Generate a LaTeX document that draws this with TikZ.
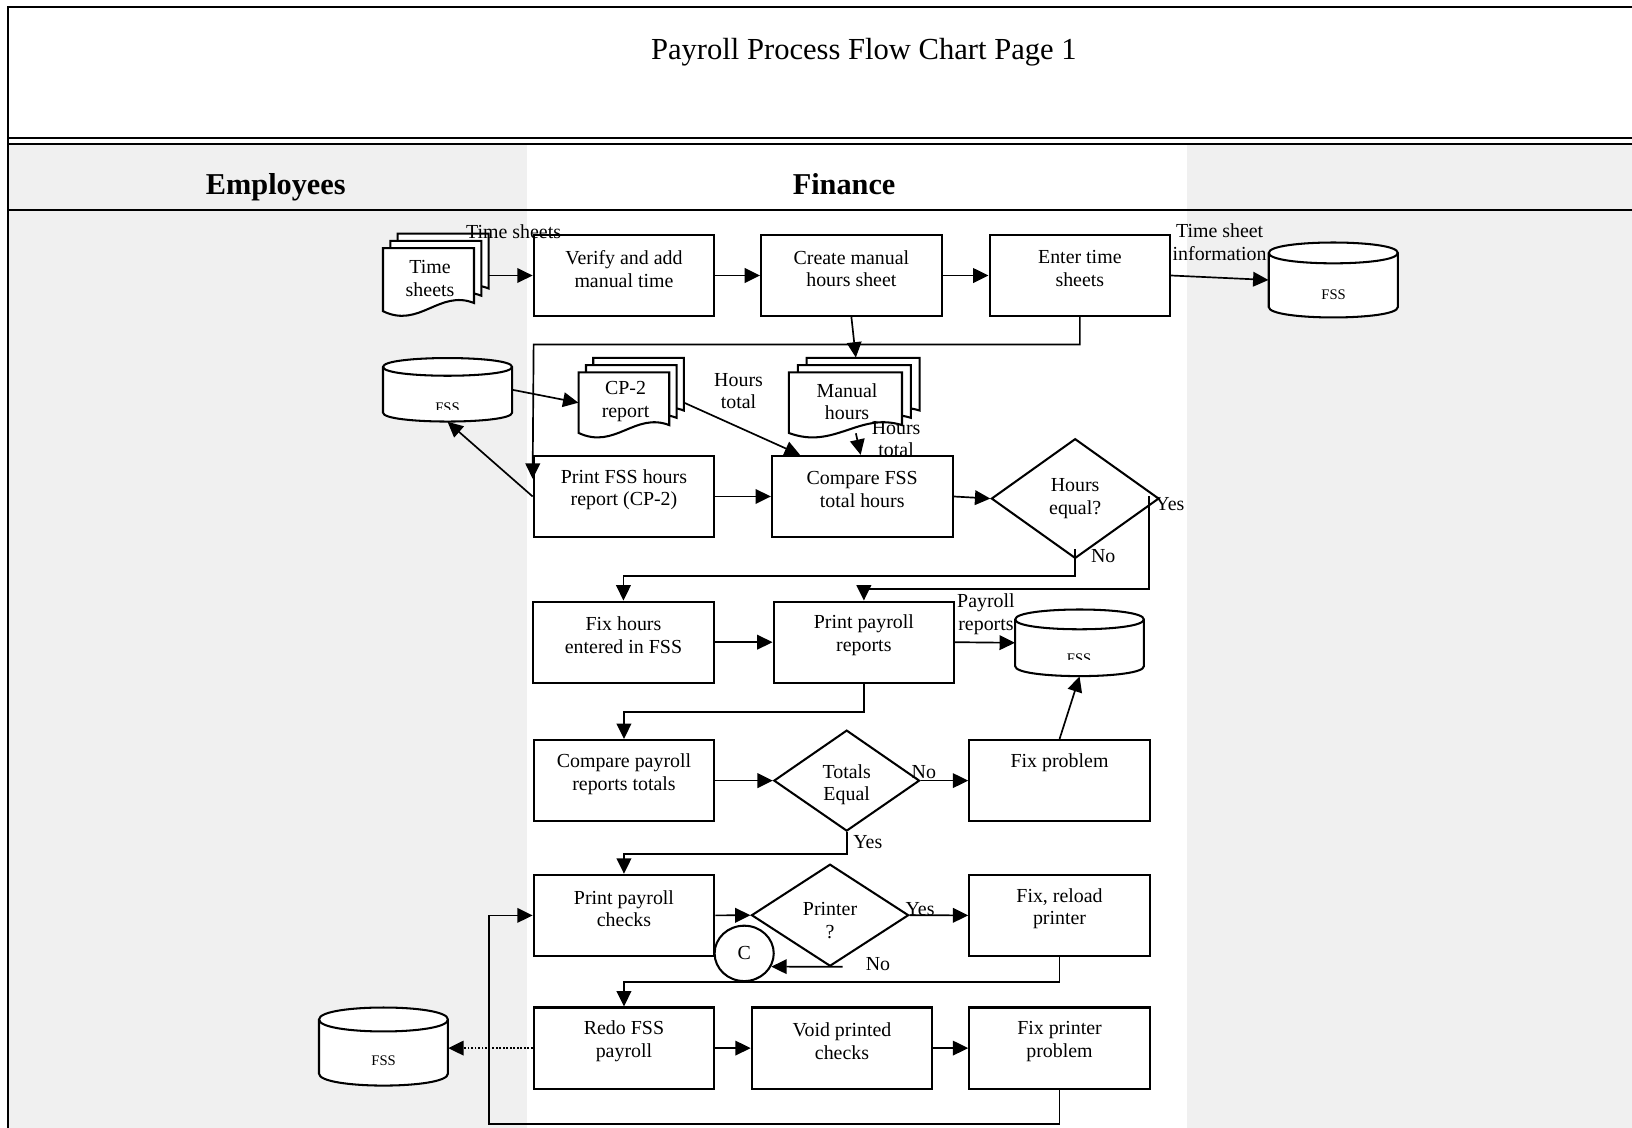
\documentclass[tikz,border=0pt]{standalone}
\usepackage{fontspec}
\setmainfont{Liberation Serif}
\usetikzlibrary{arrows.meta,shapes.geometric,calc,fit}
\definecolor{lanegray}{RGB}{240,240,240}

% one document page: #1 left x, #2 top y, #3 right x, #4 left-bottom y
\newcommand\mydocpage[4]{%
  \pgfmathsetmacro\dW{(#3)-(#1)}%
  \pgfmathsetmacro\dH{(#4)-(#2)}%
  \pgfmathsetmacro\pRy{(#4)-0.13*\dH}%
  \pgfmathsetmacro\pCax{(#1)+0.62*\dW}%
  \pgfmathsetmacro\pCay{(#4)-0.35*\dH}%
  \pgfmathsetmacro\pCbx{(#1)+0.40*\dW}%
  \pgfmathsetmacro\pCby{(#4)+0.28*\dH}%
  \draw[docst] (#1,#2) -- (#3,#2) -- (#3,\pRy) .. controls (\pCax,\pCay) and (\pCbx,\pCby) .. (#1,#4) -- cycle;
}
% stack of documents: #1 name, #2 a, #3 b, #4 c, #5 d, #6 ox, #7 oy, #8 text
\newcommand\mydocstack[8]{%
  \pgfmathsetmacro\sAa{(#2)+2*(#6)}\pgfmathsetmacro\sAb{(#3)-2*(#7)}%
  \pgfmathsetmacro\sAc{(#4)+2*(#6)}\pgfmathsetmacro\sAd{(#5)-2*(#7)}%
  \pgfmathsetmacro\sBa{(#2)+(#6)}\pgfmathsetmacro\sBb{(#3)-(#7)}%
  \pgfmathsetmacro\sBc{(#4)+(#6)}\pgfmathsetmacro\sBd{(#5)-(#7)}%
  \pgfmathsetmacro\sRy{(#5)-0.13*((#5)-(#3))-2*(#7)}%
  \mydocpage{\sAa}{\sAb}{\sAc}{\sAd}%
  \mydocpage{\sBa}{\sBb}{\sBc}{\sBd}%
  \mydocpage{#2}{#3}{#4}{#5}%
  \node[fit={(#2,#3) (#4,#5)}, inner sep=0] (#1) {};
  \node[fit={(\sAa,\sAb) (\sAc,\sRy)}, inner sep=0] (#1b) {};
  \node[txt] (#1t) at ($(#1.center)+(1.5,-1)$) {#8};
}
% cylinder: #1 name, #2 x1, #3 y1, #4 x2, #5 y2, #6 ry
\newcommand\myfsscyl[6]{%
  \pgfmathsetmacro\cyA{(#3)+(#6)}%
  \pgfmathsetmacro\cyB{(#5)-(#6)}%
  \pgfmathsetmacro\cyK{4/3*(#6)}%
  \pgfmathsetmacro\cyBd{\cyB+\cyK}%
  \pgfmathsetmacro\cyAd{\cyA+\cyK}%
  \pgfmathsetmacro\cyAu{\cyA-\cyK}%
  \draw[cylst] (#2,\cyA) -- (#2,\cyB) .. controls (#2,\cyBd) and (#4,\cyBd) .. (#4,\cyB) -- (#4,\cyA) .. controls (#4,\cyAu) and (#2,\cyAu) .. (#2,\cyA) -- cycle;
  \draw[cylst, fill=none] (#2,\cyA) .. controls (#2,\cyAd) and (#4,\cyAd) .. (#4,\cyA);
  \node[fit={(#2,#3) (#4,#5)}, inner sep=0] (#1) {};
}

\begin{document}
\begin{tikzpicture}[x=0.025cm,y=-0.025cm,
  box/.style={draw, line width=1.4pt, fill=white, minimum width=4.3375cm, minimum height=1.95cm, inner sep=0},
  dia/.style={draw, diamond, line width=1.4pt, fill=white, inner sep=0},
  txt/.style={font=\fontsize{13.6}{15.6}\selectfont, align=center, inner sep=0},
  fsst/.style={font=\fontsize{10}{12}\selectfont, inner sep=0},
  arr/.style={line width=1.15pt, -{Triangle[length=10.5pt,width=10pt]}},
  dotarr/.style={line width=1.15pt, dash pattern=on 1.3pt off 1.1pt, -{Triangle[length=10.5pt,width=10pt]}},
  docst/.style={draw, fill=white, line width=1.4pt, line join=miter},
  cylst/.style={draw, fill=white, line width=1.4pt},
  framest/.style={line width=1.3pt}]

\useasboundingbox (0,0) rectangle (1568,1083.6);
\clip (0,0) rectangle (1568,1083.6);
\fill[white] (0,0) rectangle (1568,1083.6);
\fill[lanegray] (8,138.5) rectangle (506.5,1090);
\fill[lanegray] (1140,138.5) rectangle (1575,1090);
\draw[framest] (1575,6.5) -- (8,6.5) -- (8,1090);
\draw[framest] (8,132.5) -- (1575,132.5);
\draw[framest] (8,138.5) -- (1575,138.5);
\draw[framest] (8,201.6) -- (1575,201.6);

\node[font=\fontsize{20.9}{25}\selectfont, anchor=base, inner sep=0] (title) at (830,57.6) {Payroll Process Flow Chart Page 1};
\node[font=\bfseries\fontsize{20.7}{25}\selectfont, anchor=base, inner sep=0] (lemp) at (265,187.2) {Employees};
\node[font=\bfseries\fontsize{20.7}{25}\selectfont, anchor=base, inner sep=0] (lfin) at (811,187.2) {Finance};

% process boxes
\node[box] (verify) at (599.5,264.7) {};
\node[box] (create) at (818,264.7) {};
\node[box] (enter) at (1037.5,264.7) {};
\node[box] (printfss) at (599.5,477) {};
\node[box] (cmpf) at (828.4,477) {};
\node[box] (fixh) at (599,617) {};
\node[box] (prep) at (830,617) {};
\node[box] (cmpp) at (599.5,750) {};
\node[box] (fixp) at (1018,750) {};
\node[box] (ppc) at (599.5,879.5) {};
\node[box] (fixr) at (1018,879.5) {};
\node[box] (redo) at (599.5,1007) {};
\node[box] (void) at (809,1007) {};
\node[box] (fixpr) at (1018,1007) {};

\node[txt] (verifyt) at ($(verify)+(0,-6.5)$) {Verify and add\\manual time};
\node[txt] (createt) at ($(create)+(0,-6.5)$) {Create manual\\hours sheet};
\node[txt] (entert) at ($(enter)+(0,-6.5)$) {Enter time\\sheets};
\node[txt] (printfsst) at ($(printfss)+(0,-6.5)$) {Print FSS hours\\report (CP-2)};
\node[txt] (cmpft) at ($(cmpf)+(0,-6.5)$) {Compare FSS\\total hours};
\node[txt] (fixht) at ($(fixh)+(0,-6.5)$) {Fix hours\\entered in FSS};
\node[txt] (prept) at ($(prep)+(0,-6.5)$) {Print payroll\\reports};
\node[txt] (cmppt) at ($(cmpp)+(0,-6.5)$) {Compare payroll\\reports totals};
\node[txt] (fixpt) at ($(fixp)+(0,-17)$) {Fix problem};
\node[txt] (ppct) at ($(ppc)+(0,-6.5)$) {Print payroll\\checks};
\node[txt] (fixrt) at ($(fixr)+(0,-6.5)$) {Fix, reload\\printer};
\node[txt] (redot) at ($(redo)+(0,-6.5)$) {Redo FSS\\payroll};
\node[txt] (voidt) at ($(void)+(0,-6.5)$) {Void printed\\checks};
\node[txt] (fixprt) at ($(fixpr)+(0,-6.5)$) {Fix printer\\problem};

% decisions
\node[dia, minimum width=4.025cm, minimum height=2.875cm] (heq) at (1033,479) {};
\node[dia, minimum width=3.5cm, minimum height=2.425cm] (toteq) at (813.5,750) {};
\node[dia, minimum width=3.775cm, minimum height=2.45cm] (prq) at (797.5,879.3) {};
\node[txt] (heqt) at ($(heq)+(0,0)$) {Hours\\equal?};
\node[txt] (toteqt) at ($(toteq)+(0,4)$) {Totals\\Equal};
\node[txt] (prqt) at ($(prq)+(0,5)$) {Printer\\?};

% documents
\mydocstack{ts}{368}{238.4}{455.4}{299}{7}{7}{Time\\sheets}
\mydocstack{cp}{556}{357.8}{643}{416}{7}{7}{CP-2\\report}
\mydocstack{man}{758}{357.8}{866.6}{416}{8.5}{7}{Manual\\hours}

% data stores
\myfsscyl{fssa}{1219}{233}{1343}{305}{10}
\myfsscyl{fssb}{368}{344}{492}{405}{8.5}
\myfsscyl{fssc}{975.4}{585.6}{1099}{649.6}{9.5}
\myfsscyl{fssd}{306.5}{968}{430.4}{1043}{11.5}
\node[fsst, anchor=base] (fssat) at (1281.3,288) {FSS};
\begin{scope}
\clip (400,380) rectangle (460,393);
\node[fsst, anchor=base] (fssbt) at (430,396.5) {FSS};
\end{scope}
\begin{scope}
\clip (1005,620) rectangle (1070,633.6);
\node[fsst, anchor=base] (fssct) at (1036.8,637.5) {FSS};
\end{scope}
\node[fsst, anchor=base] (fssdt) at (368.6,1024) {FSS};

% connectors
\draw[arr] (verify.west -| tsb.east) -- (verify.west);
\draw[arr] (verify.east) -- (create.west);
\draw[arr] (create.east) -- (enter.west);
\draw[arr] (enter.east) -- (fssa.west);
\coordinate (loopA) at (512.7,331);
\draw[arr] (enter.south) -- (enter.south |- loopA) -- (loopA) -- ($(printfss.north west)+(0,23)$);
\draw[arr] (create.south) -- ($(manb.north)+(-7,0)$);
\draw[arr] (fssb.east) -- (cp.west);
\draw[arr] (cp.east -| cpb.east) -- ($(cmpf.north west)+(28,0)$);
\draw[arr] ($(man.south)+(10,0)$) -- ($(cmpf.north)+(-1.5,0)$);
\draw[arr] (printfss.west) -- (fssb.south);
\draw[arr] (printfss.east) -- (cmpf.west);
\draw[arr] (cmpf.east) -- (heq.west);
\draw[arr] ($(heq.east)+(-10.5,-2)$) -- ++(0,88.8) -| (prep.north);
\draw[arr] ($(heq.south)+(0,-10)$) -- ++(0,26) -| (fixh.north);
\draw[arr] (fixh.east) -- (prep.west);
\draw[arr] (prep.east) -- (fssc.west);
\draw[arr] (prep.south) -- ++(0,27) -| (cmpp.north);
\draw[arr] (cmpp.east) -- (toteq.west);
\draw[arr] (toteq.east) -- (fixp.west);
\draw[arr] (fixp.north) -- (fssc.south);
\draw[arr] (toteq.south) -- ++(0,21) -| (ppc.north);
\draw[arr] (ppc.east) -- (prq.west);
\draw[arr] (prq.east) -- (fixr.west);
\node[draw, ellipse, line width=1.4pt, fill=white, minimum width=1.42cm, minimum height=1.33cm, inner sep=0, font=\fontsize{13.6}{15.6}\selectfont] (C) at (715,916) {C};
\coordinate (prqno) at ($(prq.south)+(12,-0.5)$);
\draw[arr] (prqno) -- (C.-26);
\draw[arr] (fixr.south) -- ++(0,24) -| (redo.north);
\draw[dotarr] (redo.west) -- (redo.west -| fssd.east);
\draw[arr] (redo.east) -- (void.west);
\draw[arr] (void.east) -- (fixpr.west);
\coordinate (loopB) at (469.8,1080);
\draw[arr] (fixpr.south) -- (fixpr.south |- loopB) -- (loopB) -- (loopB |- ppc.west) -- (ppc.west);

% labels
\node[txt] (lts) at (493.5,223) {Time sheets};
\node[txt] (ltsi) at (1171.8,232.8) {Time sheet\\information};
\node[txt] (lh1) at (709.6,375.7) {Hours\\total};
\node[txt] (lh2) at (861,421.8) {Hours\\total};
\node[txt] (ly1) at (1124,484) {Yes};
\node[txt] (ln1) at (1060,534.4) {No};
\node[txt] (lpr) at (947.3,590.5) {Payroll\\reports};
\node[txt] (ln2) at (887.6,741.4) {No};
\node[txt] (ly2) at (833.8,809) {Yes};
\node[txt] (ly3) at (884,873) {Yes};
\node[txt] (ln3) at (843.5,926.4) {No};
\end{tikzpicture}
\end{document}
